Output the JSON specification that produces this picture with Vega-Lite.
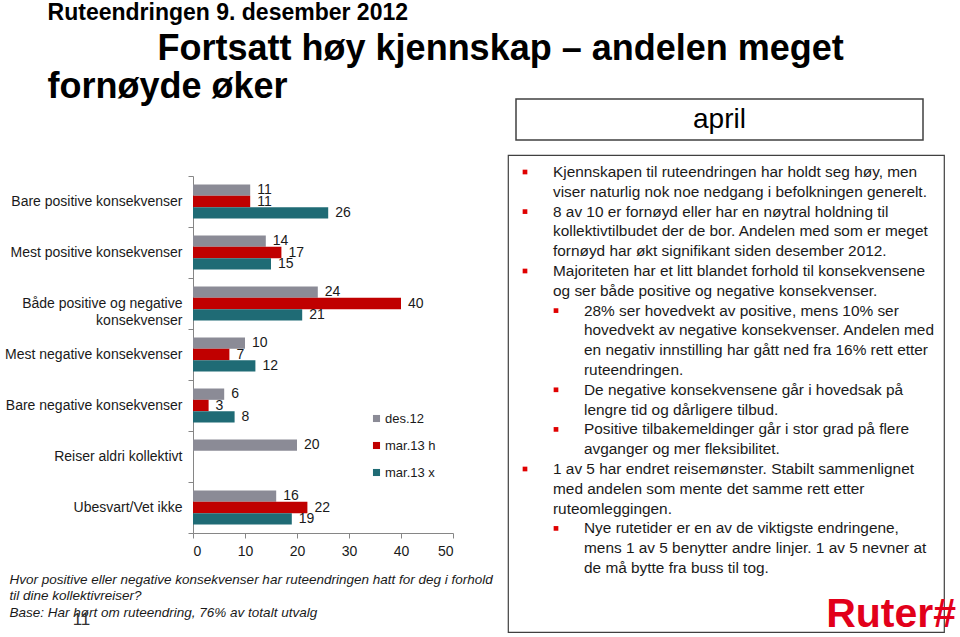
{
  "$schema": "https://vega.github.io/schema/vega-lite/v6.json",
  "padding": {"left": 4, "top": 2, "right": 0, "bottom": 0},
  "background": "white",
  "title": {
    "text": "Ruteendringen 9. desember 2012",
    "subtitle": ["\u200b\u00a0\u00a0\u00a0\u00a0\u00a0\u00a0\u00a0\u00a0\u00a0\u00a0\u00a0Fortsatt høy kjennskap – andelen meget", "fornøyde øker"],
    "anchor": "start",
    "frame": "bounds",
    "dx": 43,
    "font": "Liberation Sans, Arial, sans-serif",
    "fontSize": 23,
    "fontWeight": "bold",
    "color": "#000000",
    "subtitleFont": "Liberation Sans, Arial, sans-serif",
    "subtitleFontSize": 36,
    "subtitleFontWeight": "bold",
    "subtitleColor": "#000000",
    "subtitleLineHeight": 38,
    "subtitlePadding": 7,
    "offset": -7
  },
  "spacing": 14,
  "hconcat": [
    {
      "spacing": 68,
      "vconcat": [
        {
          "width": 260,
          "height": 1,
          "view": {"stroke": "transparent"},
          "data": {"values": []},
          "mark": "point"
        },
        {
          "width": 260,
          "height": 357,
          "data": {
            "values": [
              {"category": "Bare positive konsekvenser", "series": "des.12", "value": 11},
              {"category": "Bare positive konsekvenser", "series": "mar.13 h", "value": 11},
              {"category": "Bare positive konsekvenser", "series": "mar.13 x", "value": 26},
              {"category": "Mest positive konsekvenser", "series": "des.12", "value": 14},
              {"category": "Mest positive konsekvenser", "series": "mar.13 h", "value": 17},
              {"category": "Mest positive konsekvenser", "series": "mar.13 x", "value": 15},
              {"category": "Både positive og negative konsekvenser", "series": "des.12", "value": 24},
              {"category": "Både positive og negative konsekvenser", "series": "mar.13 h", "value": 40},
              {"category": "Både positive og negative konsekvenser", "series": "mar.13 x", "value": 21},
              {"category": "Mest negative konsekvenser", "series": "des.12", "value": 10},
              {"category": "Mest negative konsekvenser", "series": "mar.13 h", "value": 7},
              {"category": "Mest negative konsekvenser", "series": "mar.13 x", "value": 12},
              {"category": "Bare negative konsekvenser", "series": "des.12", "value": 6},
              {"category": "Bare negative konsekvenser", "series": "mar.13 h", "value": 3},
              {"category": "Bare negative konsekvenser", "series": "mar.13 x", "value": 8},
              {"category": "Reiser aldri kollektivt", "series": "des.12", "value": 20},
              {"category": "Ubesvart/Vet ikke", "series": "des.12", "value": 16},
              {"category": "Ubesvart/Vet ikke", "series": "mar.13 h", "value": 22},
              {"category": "Ubesvart/Vet ikke", "series": "mar.13 x", "value": 19}
            ]
          },
          "encoding": {
            "y": {
              "field": "category",
              "type": "nominal",
              "sort": ["Bare positive konsekvenser", "Mest positive konsekvenser", "Både positive og negative konsekvenser", "Mest negative konsekvenser", "Bare negative konsekvenser", "Reiser aldri kollektivt", "Ubesvart/Vet ikke"],
              "scale": {"paddingInner": 0, "paddingOuter": 0},
              "axis": {
                "title": "11",
                "titleAngle": 0,
                "titleX": -112,
                "titleY": 443,
                "titleAlign": "center",
                "titleBaseline": "middle",
                "titleFontSize": 17,
                "titleFontWeight": "normal",
                "titleColor": "#333333",
                "tickBand": "extent",
                "domainColor": "#868686",
                "tickColor": "#868686",
                "tickSize": 5,
                "labelPadding": 6,
                "labelFontSize": 14,
                "labelColor": "#1a1a1a",
                "labelLineHeight": 17,
                "labelLimit": 300,
                "grid": false,
                "labelExpr": "datum.label == 'Både positive og negative konsekvenser' ? ['Både positive og negative', 'konsekvenser'] : datum.label"
              }
            },
            "yOffset": {
              "field": "series",
              "type": "nominal",
              "sort": ["des.12", "mar.13 h", "mar.13 x"],
              "scale": {"paddingInner": 0, "paddingOuter": 0.75}
            },
            "x": {
              "field": "value",
              "type": "quantitative",
              "scale": {"domain": [0, 50], "nice": false},
              "axis": {
                "values": [0, 10, 20, 30, 40, 50],
                "grid": false,
                "domainColor": "#868686",
                "tickColor": "#868686",
                "tickSize": 5,
                "labelPadding": 6,
                "labelFontSize": 14,
                "labelColor": "#1a1a1a",
                "title": ["Hvor positive eller negative konsekvenser har ruteendringen hatt for deg i forhold", "til dine kollektivreiser?", "Base: Har hørt om ruteendring, 76% av totalt utvalg"],
                "titleFontStyle": "italic",
                "titleFontWeight": "normal",
                "titleFontSize": 13.5,
                "titleColor": "#1a1a1a",
                "titleAlign": "left",
                "titleBaseline": "top",
                "titleX": -184,
                "titleY": 39,
                "titleLineHeight": 16.5,
                "titleLimit": 700
              }
            }
          },
          "layer": [
            {
              "mark": {"type": "bar"},
              "encoding": {
                "color": {
                  "field": "series",
                  "type": "nominal",
                  "sort": ["des.12", "mar.13 h", "mar.13 x"],
                  "scale": {"domain": ["des.12", "mar.13 h", "mar.13 x"], "range": ["#8b8b96", "#c00000", "#1f6b75"]},
                  "legend": {
                    "title": null,
                    "orient": "none",
                    "legendX": 177,
                    "legendY": 313,
                    "symbolType": "square",
                    "symbolSize": 50,
                    "symbolStrokeWidth": 0,
                    "labelFontSize": 13,
                    "labelColor": "#1a1a1a",
                    "labelOffset": 2,
                    "rowPadding": 13
                  }
                }
              }
            },
            {
              "mark": {"type": "text", "align": "left", "baseline": "middle", "dx": 7, "fontSize": 14, "color": "#1a1a1a"},
              "encoding": {"text": {"field": "value", "type": "quantitative"}}
            }
          ]
        }
      ]
    },
    {
      "spacing": 13,
      "vconcat": [
        {
          "spacing": 5,
          "hconcat": [
            {
              "width": 1,
              "height": 41,
              "view": {"stroke": "transparent"},
              "data": {"values": []},
              "mark": "point"
            },
            {
              "width": 407,
              "height": 41,
              "view": {"stroke": "#404040", "strokeWidth": 1.5},
              "data": {"values": [{"label": "april", "px": 0.5, "py": 0.5}]},
              "mark": {
                "type": "text",
                "align": "center",
                "baseline": "middle",
                "fontSize": 28,
                "font": "Liberation Sans, Arial, sans-serif",
                "color": "#000000"
              },
              "encoding": {
                "text": {"field": "label"},
                "x": {"field": "px", "type": "quantitative", "scale": {"domain": [0, 1]}, "axis": null},
                "y": {"field": "py", "type": "quantitative", "scale": {"domain": [0, 1]}, "axis": null}
              }
            }
          ]
        },
        {
          "width": 436,
          "height": 477,
          "view": {"stroke": "#404040", "strokeWidth": 1.2},
          "title": {
            "text": "Ruter#",
            "orient": "bottom",
            "anchor": "end",
            "frame": "group",
            "baseline": "alphabetic",
            "offset": -5,
            "dx": 12,
            "fontSize": 41,
            "fontWeight": "bold",
            "font": "Liberation Sans, Arial, sans-serif",
            "color": "#e2001a"
          },
          "data": {"name": "bullets"},
          "encoding": {
            "y": {"field": "line", "type": "quantitative", "scale": {"domain": [0.1414, 24.2323], "reverse": true, "zero": false, "nice": false}, "axis": null},
            "x": {"field": "level", "type": "quantitative", "scale": {"domain": [-0.4516, 13.613], "zero": false, "nice": false}, "axis": null}
          },
          "layer": [
            {
              "mark": {"type": "text", "align": "left", "baseline": "middle", "fontSize": 15.4, "color": "#1a1a1a"},
              "encoding": {"text": {"field": "text"}}
            },
            {
              "transform": [{"filter": "datum.bullet"}],
              "mark": {"type": "square", "size": 22, "color": "#e00000", "opacity": 1, "xOffset": -28}
            }
          ]
        }
      ]
    }
  ],
  "datasets": {
    "bullets": [
      {"line": 1, "level": 1, "bullet": true, "text": "Kjennskapen til ruteendringen har holdt seg høy, men"},
      {"line": 2, "level": 1, "bullet": false, "text": "viser naturlig nok noe nedgang i befolkningen generelt."},
      {"line": 3, "level": 1, "bullet": true, "text": "8 av 10 er fornøyd eller har en nøytral holdning til"},
      {"line": 4, "level": 1, "bullet": false, "text": "kollektivtilbudet der de bor. Andelen med som er meget"},
      {"line": 5, "level": 1, "bullet": false, "text": "fornøyd har økt signifikant siden desember 2012."},
      {"line": 6, "level": 1, "bullet": true, "text": "Majoriteten har et litt blandet forhold til konsekvensene"},
      {"line": 7, "level": 1, "bullet": false, "text": "og ser både positive og negative konsekvenser."},
      {"line": 8, "level": 2, "bullet": true, "text": "28% ser hovedvekt av positive, mens 10% ser"},
      {"line": 9, "level": 2, "bullet": false, "text": "hovedvekt av negative konsekvenser. Andelen med"},
      {"line": 10, "level": 2, "bullet": false, "text": "en negativ innstilling har gått ned fra 16% rett etter"},
      {"line": 11, "level": 2, "bullet": false, "text": "ruteendringen."},
      {"line": 12, "level": 2, "bullet": true, "text": "De negative konsekvensene går i hovedsak på"},
      {"line": 13, "level": 2, "bullet": false, "text": "lengre tid og dårligere tilbud."},
      {"line": 14, "level": 2, "bullet": true, "text": "Positive tilbakemeldinger går i stor grad på flere"},
      {"line": 15, "level": 2, "bullet": false, "text": "avganger og mer fleksibilitet."},
      {"line": 16, "level": 1, "bullet": true, "text": "1 av 5 har endret reisemønster. Stabilt sammenlignet"},
      {"line": 17, "level": 1, "bullet": false, "text": "med andelen som mente det samme rett etter"},
      {"line": 18, "level": 1, "bullet": false, "text": "ruteomleggingen."},
      {"line": 19, "level": 2, "bullet": true, "text": "Nye rutetider er en av de viktigste endringene,"},
      {"line": 20, "level": 2, "bullet": false, "text": "mens 1 av 5 benytter andre linjer. 1 av 5 nevner at"},
      {"line": 21, "level": 2, "bullet": false, "text": "de må bytte fra buss til tog."}
    ]
  },
  "config": {
    "view": {"stroke": null},
    "font": "Liberation Sans, Arial, sans-serif"
  }
}
